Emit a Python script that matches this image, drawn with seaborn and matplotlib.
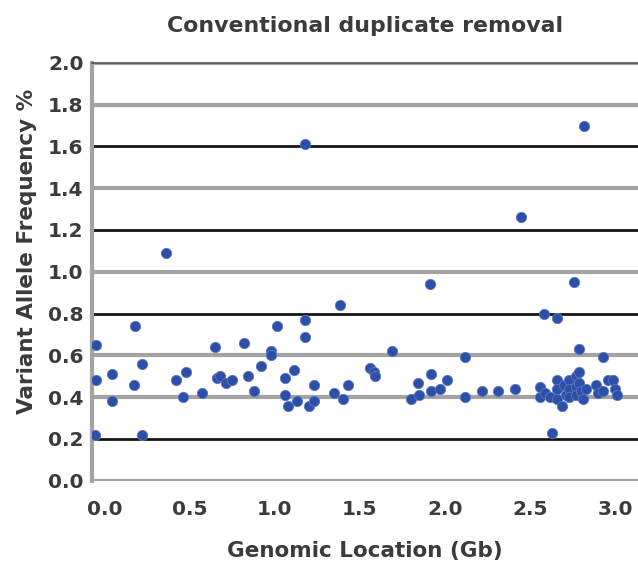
import matplotlib
matplotlib.use("Agg")
import matplotlib.pyplot as plt
import seaborn as sns
import pandas as pd

# Genomic location (Gb) and variant allele frequency (%)
location_gb = [
    -0.05, 0.18, -0.05, 0.04, 0.04, 0.17, 0.22, -0.06, 0.22, 0.36,
    0.42, 0.48, 0.46, 0.57, 0.65, 0.66, 0.68, 0.71, 0.75, 0.82,
    0.84, 0.88, 0.92, 0.98, 0.98, 1.01, 1.18, 1.18, 1.18, 1.38,
    1.11, 1.06, 1.06, 1.08, 1.13, 1.20, 1.23, 1.23, 1.35, 1.40,
    1.43, 1.56, 1.58, 1.59, 1.69, 1.80, 1.84, 1.85, 1.92, 1.92,
    1.97, 2.01, 1.91, 2.12, 2.12, 2.22, 2.31, 2.41, 2.45, 2.58,
    2.66, 2.63, 2.76, 2.82, 2.79, 2.93,
    2.56, 2.56, 2.59, 2.62, 2.66, 2.66, 2.66, 2.69, 2.70, 2.71,
    2.73, 2.73, 2.73, 2.77, 2.77, 2.77, 2.79, 2.79, 2.80, 2.81,
    2.83, 2.89, 2.90, 2.93, 2.96, 2.99, 3.00, 3.01,
]
vaf_pct = [
    0.65, 0.74, 0.48, 0.51, 0.38, 0.46, 0.56, 0.22, 0.22, 1.09,
    0.48, 0.52, 0.40, 0.42, 0.64, 0.49, 0.50, 0.47, 0.48, 0.66,
    0.50, 0.43, 0.55, 0.62, 0.60, 0.74, 0.77, 0.69, 1.61, 0.84,
    0.53, 0.49, 0.41, 0.36, 0.38, 0.36, 0.38, 0.46, 0.42, 0.39,
    0.46, 0.54, 0.52, 0.50, 0.62, 0.39, 0.47, 0.41, 0.51, 0.43,
    0.44, 0.48, 0.94, 0.59, 0.40, 0.43, 0.43, 0.44, 1.26, 0.80,
    0.78, 0.23, 0.95, 1.70, 0.63, 0.59,
    0.45, 0.40, 0.42, 0.40, 0.48, 0.44, 0.39, 0.36, 0.46, 0.41,
    0.48, 0.44, 0.40, 0.50, 0.45, 0.41, 0.52, 0.47, 0.43, 0.39,
    0.44, 0.46, 0.42, 0.43, 0.48, 0.48, 0.44, 0.41,
]
y_ticks = [0.0, 0.2, 0.4, 0.6, 0.8, 1.0, 1.2, 1.4, 1.6, 1.8, 2.0]
x_ticks = [0.0, 0.5, 1.0, 1.5, 2.0, 2.5, 3.0]
dark_lines = [0.2, 0.8, 1.2, 1.6]

df = pd.DataFrame({"loc": location_gb, "vaf": vaf_pct})

sns.set_style("white")
plt.rcParams["font.family"] = ["DejaVu Sans"]
text_col = "#3b3b3b"

fig = plt.figure(figsize=(6.38, 5.71), dpi=100)
ax = fig.add_axes([0.144, 0.158, 0.856, 0.732])

# horizontal grid: dark and grey lines alternate
for t in y_ticks:
    if t in dark_lines:
        ax.axhline(t, color="#151515", lw=2.0, zorder=1)
    else:
        ax.axhline(t, color="#a3a3a3", lw=3.0, zorder=1)

sns.scatterplot(data=df, x="loc", y="vaf", ax=ax, color="#2d4fa6",
                s=55, edgecolor="#5a78c4", linewidth=0.6, zorder=3)

ax.set_xlim(-0.076, 3.135)
ax.set_ylim(0, 2.0)
ax.set_xticks(x_ticks)
ax.set_yticks(y_ticks)
ax.set_xticklabels([f"{v:.1f}" for v in x_ticks], fontsize=14.5,
                   fontweight="bold", color=text_col)
ax.set_yticklabels([f"{v:.1f}" for v in y_ticks], fontsize=14.5,
                   fontweight="bold", color=text_col)
ax.tick_params(axis="x", length=0, pad=14)
ax.tick_params(axis="y", length=0, pad=6)

for side in ["right", "bottom"]:
    ax.spines[side].set_visible(False)
ax.spines["left"].set_color("#a3a3a3")
ax.spines["left"].set_linewidth(3.0)
ax.spines["top"].set_color("#555555")
ax.spines["top"].set_linewidth(1.2)

ax.set_xlabel("Genomic Location (Gb)", fontsize=15.5, fontweight="bold",
              color=text_col, labelpad=16)
ax.set_ylabel("Variant Allele Frequency %", fontsize=15.5,
              fontweight="bold", color=text_col)
ax.yaxis.set_label_coords(-0.10, 0.548)
ax.set_title("Conventional duplicate removal", fontsize=15.8,
             fontweight="bold", color=text_col, pad=22)

fig.savefig("out.png", dpi=100)
